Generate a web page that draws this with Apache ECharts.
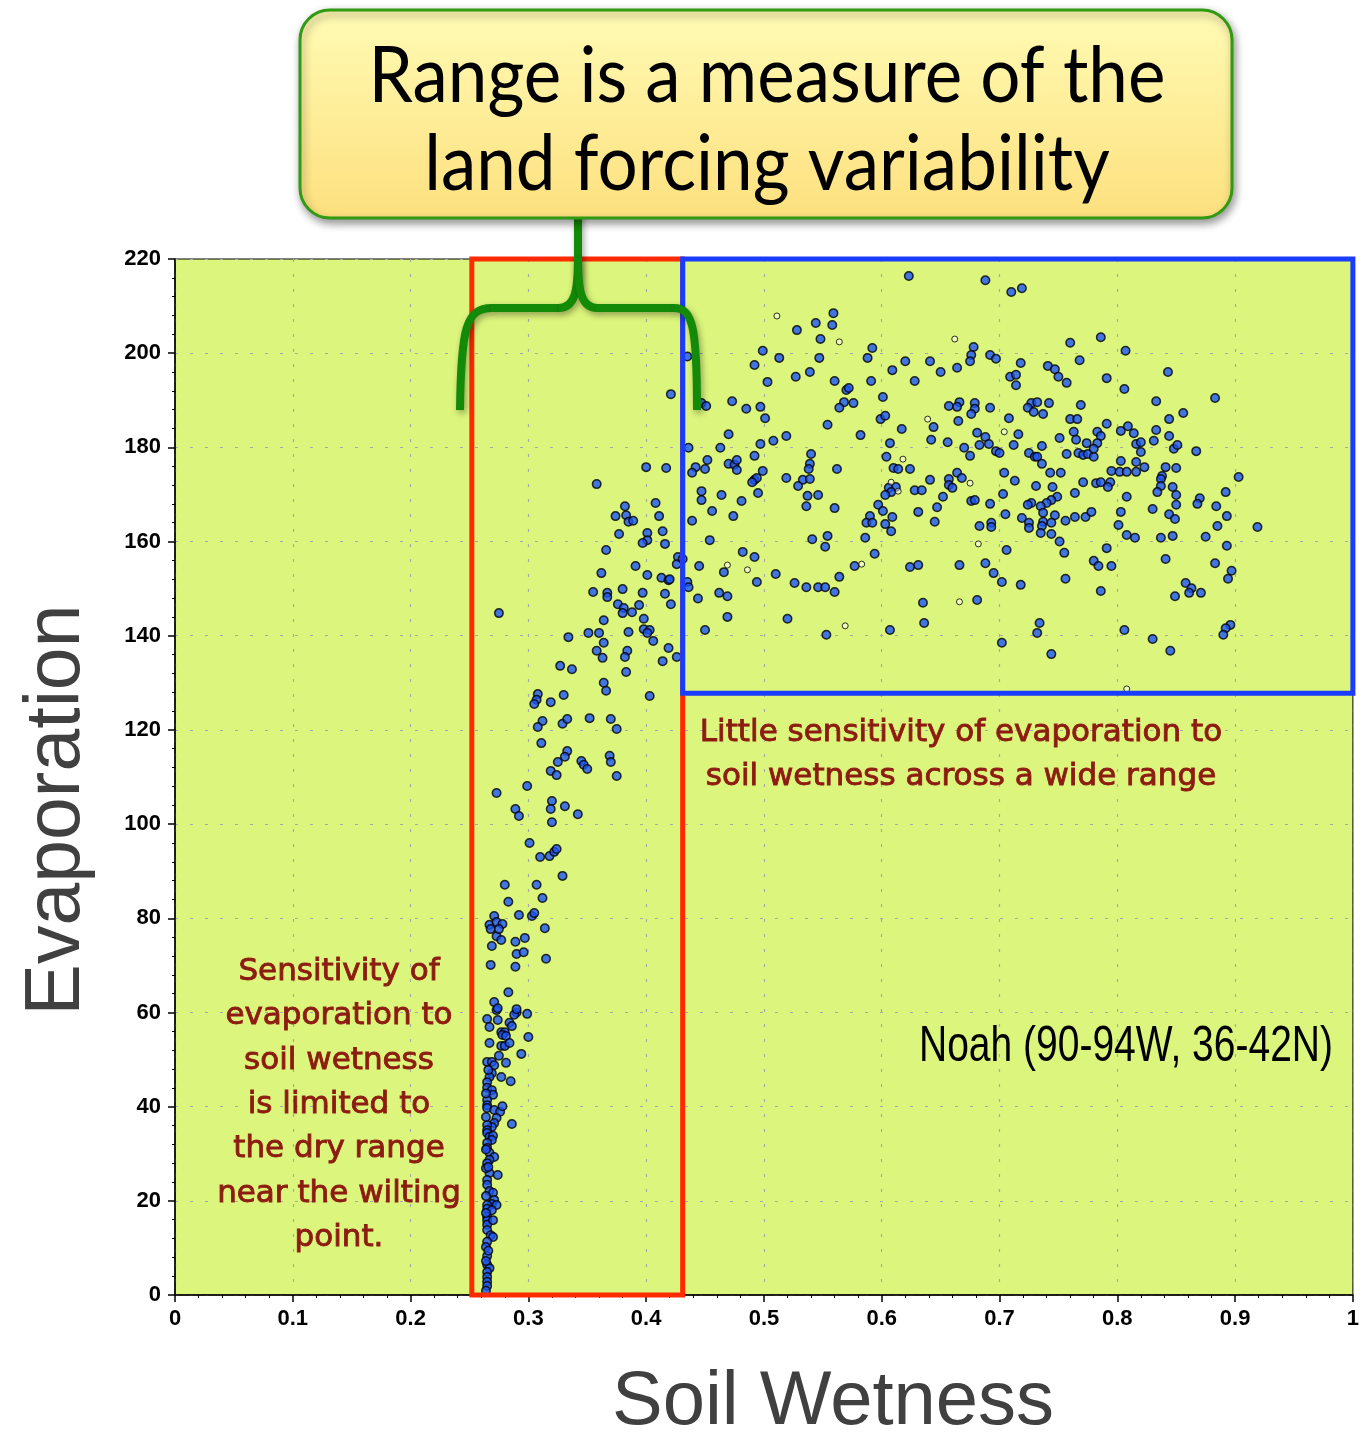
<!DOCTYPE html>
<html><head><meta charset="utf-8">
<script src="https://cdn.jsdelivr.net/npm/echarts@6/dist/echarts.min.js"></script>
<style>html,body{margin:0;padding:0;background:#fff}#c{width:1362px;height:1433px}</style>
</head><body><div id="c"></div>
<script>
// ---- data (soil wetness, evaporation) ----
const xTicks = ['0','0.1','0.2','0.3','0.4','0.5','0.6','0.7','0.8','0.9','1'];
const yTicks = [0,20,40,60,80,100,120,140,160,180,200,220];

const dryColumn = [[0.271,62.2],[0.273,60.5],[0.290,60.0],[0.288,59.5],[0.299,59.7],[0.265,58.6],[0.274,58.4],[0.284,57.8],[0.286,57.1],[0.267,56.9],[0.277,55.8],[0.280,55.8],[0.278,55.2],[0.281,55.0],[0.300,54.8],[0.267,53.5],[0.277,52.9],[0.280,52.9],[0.284,53.5],[0.294,51.2],[0.275,50.8],[0.265,49.5],[0.269,49.5],[0.271,48.8],[0.281,49.3],[0.269,47.1],[0.267,46.3],[0.277,46.3],[0.285,45.4],[0.265,45.2],[0.265,44.0],[0.269,43.5],[0.270,42.5],[0.265,41.4],[0.265,40.3],[0.265,39.7],[0.271,39.3],[0.276,38.9],[0.278,40.1],[0.273,37.6],[0.271,36.5],[0.269,35.7],[0.286,36.3],[0.265,36.1],[0.265,35.0],[0.265,34.4],[0.267,33.6],[0.270,33.8],[0.269,32.9],[0.265,32.3],[0.265,31.2],[0.267,30.2],[0.271,29.3],[0.267,28.7],[0.265,28.0],[0.267,25.9],[0.274,25.5],[0.265,24.4],[0.265,23.4],[0.267,22.1],[0.270,21.7],[0.271,20.2],[0.269,19.3],[0.273,19.1],[0.265,19.1],[0.265,18.3],[0.265,16.6],[0.265,15.9],[0.265,14.9],[0.269,18.0],[0.270,15.9],[0.265,13.8],[0.268,12.7],[0.270,12.3],[0.265,11.3],[0.265,8.3],[0.265,6.4],[0.267,5.7],[0.265,4.9],[0.265,3.8],[0.265,2.8],[0.265,1.9],[0.264,42.8],[0.264,37.8],[0.264,30.9],[0.264,26.9],[0.264,21.0],[0.264,17.4],[0.264,10.2],[0.264,7.2],[0.264,0.9],[0.266,47.8],[0.266,27.2],[0.266,9.4],[0.274,60.9],[0.290,60.7]];

const risingLimb = [[0.283,64.3],[0.268,70.1],[0.289,69.7],[0.315,71.4],[0.290,72.4],[0.296,72.8],[0.269,74.1],[0.297,75.8],[0.289,75.0],[0.273,76.2],[0.277,75.4],[0.314,77.9],[0.271,80.5],[0.267,78.6],[0.273,79.2],[0.278,78.8],[0.268,77.7],[0.275,77.7],[0.292,80.7],[0.303,80.5],[0.305,81.1],[0.283,83.5],[0.312,84.3],[0.280,87.1],[0.307,87.1],[0.329,89.0],[0.310,93.0],[0.318,93.2],[0.322,94.1],[0.324,94.7],[0.301,96.0],[0.320,100.4],[0.289,103.2],[0.292,101.7],[0.342,102.1],[0.331,103.8],[0.320,104.9],[0.319,103.2],[0.273,106.6],[0.299,108.1],[0.375,110.2],[0.319,111.3],[0.324,110.4],[0.345,113.4],[0.347,112.6],[0.350,111.7],[0.369,114.5],[0.370,113.2],[0.333,115.5],[0.331,114.3],[0.325,113.2],[0.311,117.2],[0.312,121.9],[0.308,120.6],[0.329,121.3],[0.333,122.3],[0.352,122.5],[0.370,122.3],[0.375,120.2],[0.308,127.6],[0.307,126.4],[0.305,125.5],[0.319,125.9],[0.330,127.4],[0.366,128.3],[0.403,127.2],[0.364,130.0],[0.383,132.3],[0.327,133.6],[0.337,132.9],[0.414,134.6],[0.358,136.8],[0.384,136.8],[0.382,135.5],[0.363,135.3],[0.426,135.5],[0.419,137.4],[0.364,138.5],[0.406,138.9],[0.351,140.6],[0.360,140.6],[0.334,139.7],[0.385,140.8],[0.398,141.4],[0.403,141.2],[0.401,140.6],[0.398,143.6],[0.364,143.3],[0.275,144.8],[0.376,146.7],[0.381,145.9],[0.380,144.8],[0.388,145.0],[0.394,146.5],[0.421,146.7],[0.380,149.9],[0.355,149.3],[0.367,149.1],[0.367,148.2],[0.397,149.1],[0.416,148.9],[0.413,152.3],[0.419,151.8],[0.420,152.0],[0.401,152.9],[0.362,153.3],[0.391,154.8],[0.427,156.7],[0.426,155.2],[0.366,158.2],[0.401,161.8],[0.401,160.3],[0.397,159.7],[0.414,162.2],[0.416,159.5],[0.377,161.6],[0.374,165.4],[0.383,165.6],[0.385,164.2],[0.389,164.4],[0.411,165.4],[0.382,167.5],[0.408,168.2],[0.358,172.2],[0.400,175.8],[0.417,175.6],[0.421,191.3],[0.431,156.3]];

const plateau = [[0.435,199.3],[0.623,216.4],[0.688,215.5],[0.710,213.0],[0.719,213.8],[0.559,208.5],[0.544,206.4],[0.558,206.0],[0.528,204.9],[0.548,203.0],[0.678,201.3],[0.499,200.5],[0.492,197.5],[0.513,199.0],[0.547,199.0],[0.592,201.1],[0.588,199.0],[0.620,198.3],[0.641,198.3],[0.676,199.6],[0.675,198.3],[0.692,199.6],[0.697,198.8],[0.609,196.4],[0.650,196.0],[0.664,196.9],[0.628,194.1],[0.503,193.9],[0.527,195.0],[0.539,196.0],[0.560,194.1],[0.591,194.1],[0.570,192.2],[0.572,192.6],[0.709,195.0],[0.714,195.4],[0.714,193.2],[0.601,190.7],[0.447,189.4],[0.451,188.8],[0.473,189.8],[0.485,188.2],[0.497,188.6],[0.501,186.2],[0.568,189.6],[0.564,188.4],[0.576,189.4],[0.657,188.8],[0.666,189.6],[0.664,188.6],[0.679,189.4],[0.679,188.2],[0.676,187.1],[0.692,188.4],[0.599,186.0],[0.603,186.7],[0.554,184.8],[0.665,185.6],[0.644,184.3],[0.708,186.2],[0.617,183.9],[0.470,182.8],[0.519,182.4],[0.508,181.4],[0.582,182.6],[0.681,183.1],[0.688,182.2],[0.642,181.6],[0.607,180.9],[0.656,181.1],[0.436,179.9],[0.463,179.9],[0.497,180.7],[0.670,179.9],[0.683,180.5],[0.691,180.7],[0.712,180.5],[0.697,179.2],[0.700,178.8],[0.675,178.2],[0.540,178.6],[0.492,178.2],[0.452,177.3],[0.442,175.8],[0.450,175.4],[0.439,174.6],[0.470,176.5],[0.475,176.3],[0.477,177.3],[0.477,175.2],[0.539,176.5],[0.538,175.4],[0.562,175.4],[0.604,178.0],[0.610,175.6],[0.614,175.4],[0.624,175.4],[0.499,175.0],[0.519,173.5],[0.492,173.1],[0.494,173.5],[0.490,172.6],[0.533,173.1],[0.539,173.3],[0.529,171.8],[0.664,174.6],[0.668,173.5],[0.657,173.3],[0.657,172.0],[0.660,171.4],[0.641,173.1],[0.704,174.6],[0.713,172.9],[0.606,171.4],[0.612,171.6],[0.608,170.5],[0.603,169.9],[0.628,170.9],[0.634,170.9],[0.447,170.7],[0.447,168.8],[0.464,169.9],[0.495,170.3],[0.546,169.9],[0.537,169.7],[0.481,168.6],[0.536,167.5],[0.560,167.1],[0.652,169.5],[0.676,168.6],[0.679,168.8],[0.692,168.0],[0.703,170.1],[0.705,165.8],[0.456,166.5],[0.474,165.4],[0.439,164.4],[0.597,167.8],[0.601,166.5],[0.609,165.2],[0.590,165.4],[0.587,164.0],[0.592,164.0],[0.603,163.7],[0.608,162.2],[0.631,166.3],[0.647,167.3],[0.645,164.2],[0.683,163.3],[0.693,164.0],[0.693,163.1],[0.454,160.3],[0.541,160.5],[0.554,161.2],[0.552,158.9],[0.586,160.8],[0.482,157.8],[0.492,156.7],[0.594,157.4],[0.706,158.2],[0.445,154.8],[0.466,153.5],[0.510,153.1],[0.577,154.8],[0.624,154.6],[0.631,155.0],[0.666,155.0],[0.688,155.4],[0.695,153.3],[0.702,151.4],[0.435,151.4],[0.436,150.3],[0.494,151.4],[0.526,151.2],[0.536,150.3],[0.546,150.3],[0.552,150.3],[0.560,149.3],[0.564,152.5],[0.462,149.1],[0.469,148.4],[0.444,147.9],[0.635,147.0],[0.681,147.6],[0.469,144.0],[0.520,143.6],[0.450,141.2],[0.553,140.2],[0.607,141.2],[0.636,142.7],[0.702,138.5],
[0.760,202.2],[0.786,203.4],[0.807,200.5],[0.718,197.9],[0.768,198.5],[0.741,197.3],[0.747,196.6],[0.750,195.0],[0.757,193.7],[0.791,194.7],[0.843,196.0],[0.806,192.4],[0.883,190.5],[0.833,189.8],[0.856,187.3],[0.727,189.4],[0.732,189.6],[0.724,188.4],[0.729,187.5],[0.742,189.4],[0.737,187.1],[0.769,189.0],[0.760,186.0],[0.766,186.0],[0.791,185.0],[0.844,186.0],[0.716,182.8],[0.751,182.0],[0.763,183.3],[0.765,181.6],[0.783,183.3],[0.786,182.4],[0.783,180.9],[0.774,180.9],[0.803,183.5],[0.809,184.5],[0.814,183.0],[0.833,183.7],[0.831,181.4],[0.844,182.4],[0.816,180.7],[0.820,181.1],[0.820,179.0],[0.848,179.7],[0.851,180.5],[0.867,179.2],[0.736,180.3],[0.725,178.8],[0.730,178.0],[0.732,178.0],[0.757,178.6],[0.767,178.8],[0.771,178.4],[0.775,178.6],[0.780,178.0],[0.780,179.7],[0.736,176.5],[0.803,177.1],[0.816,176.9],[0.743,174.6],[0.752,174.6],[0.795,175.0],[0.802,174.8],[0.808,174.8],[0.816,174.8],[0.823,175.8],[0.841,175.8],[0.850,175.6],[0.903,173.7],[0.771,172.6],[0.782,172.4],[0.786,172.6],[0.794,172.6],[0.792,171.6],[0.731,171.8],[0.745,171.6],[0.838,173.9],[0.837,173.3],[0.837,171.8],[0.834,170.5],[0.847,171.6],[0.850,169.9],[0.850,167.8],[0.892,170.5],[0.764,170.3],[0.749,169.5],[0.744,168.8],[0.740,168.2],[0.735,167.5],[0.727,168.2],[0.724,167.8],[0.808,169.5],[0.870,169.2],[0.868,168.0],[0.884,167.5],[0.893,165.4],[0.719,165.0],[0.725,164.0],[0.725,162.9],[0.737,166.1],[0.737,164.2],[0.736,163.3],[0.747,165.6],[0.744,164.0],[0.756,164.4],[0.764,165.2],[0.773,165.2],[0.778,166.3],[0.803,166.3],[0.801,163.5],[0.830,166.9],[0.844,165.8],[0.849,164.8],[0.885,163.3],[0.919,163.1],[0.735,161.8],[0.744,161.6],[0.751,160.0],[0.755,157.6],[0.808,161.4],[0.815,160.8],[0.837,160.8],[0.847,161.2],[0.875,161.0],[0.893,159.1],[0.791,158.6],[0.841,156.3],[0.780,155.9],[0.784,154.8],[0.795,154.8],[0.883,155.4],[0.897,153.8],[0.894,152.1],[0.718,150.8],[0.756,152.1],[0.786,149.5],[0.858,151.2],[0.863,150.1],[0.861,149.1],[0.871,149.1],[0.849,148.4],[0.734,142.7],[0.732,140.6],[0.806,141.2],[0.830,139.3],[0.845,136.8],[0.896,142.3],[0.892,141.6],[0.890,140.2],[0.744,136.1]];

const hollowPoints = [[0.511,207.9],[0.564,202.4],[0.662,203.0],[0.639,186.0],[0.704,183.3],[0.618,177.5],[0.675,172.4],[0.682,159.5],[0.486,154.0],[0.583,155.2],[0.666,147.2],[0.569,142.1],[0.808,128.7],[0.608,172.6],[0.614,170.7],[0.469,155.0]];

// annotation boxes in data units
const dryBox = {x0:0.252, x1:0.431, y0:0, y1:220};
const flatBox = {x0:0.431, x1:1.0, y0:127.8, y1:220};

const titleLines = ['Range is a measure of the', 'land forcing variability'];
const rightNote = ['Little sensitivity of evaporation to', 'soil wetness across a wide range'];
const leftNote = ['Sensitivity of','evaporation to','soil wetness','is limited to','the dry range','near the wilting','point.'];
const modelLabel = 'Noah (90-94W, 36-42N)';

const chart = echarts.init(document.getElementById('c'), null, {renderer:'canvas'});
const tickFont = {fontFamily:'Liberation Sans, Arial', fontWeight:'bold', fontSize:22, color:'#000'};
const axisCommon = {
  axisLine:{show:true, onZero:false, lineStyle:{color:'#000', width:1.5}},
  axisTick:{show:true, length:7, lineStyle:{color:'#000', width:1.5}},
  minorTick:{show:true, splitNumber:5, length:3, lineStyle:{color:'#000'}},
  splitLine:{show:true, lineStyle:{color:'#a8a8a8', type:[3,12], width:1.2}}
};
const symbolStyle = {color:'#1b55f5', borderColor:'#000', borderWidth:1.5};

chart.setOption({
  animation:false,
  backgroundColor:'#ffffff',
  grid:{left:175, top:259, width:1180, height:1036, show:true, backgroundColor:'#dcf57c', borderColor:'#000', borderWidth:1},
  xAxis:Object.assign({type:'value', min:0, max:1, interval:0.1,
    axisLabel:Object.assign({margin:13, formatter:(v)=>xTicks[Math.round(v*10)]}, tickFont)}, axisCommon),
  yAxis:Object.assign({type:'value', min:0, max:220, interval:20,
    axisLabel:Object.assign({margin:14, formatter:(v)=>String(yTicks[Math.round(v/20)])}, tickFont)}, axisCommon),
  series:[
    {type:'scatter', name:'dry', data:dryColumn, symbolSize:8.5, itemStyle:symbolStyle, z:3},
    {type:'scatter', name:'rising', data:risingLimb, symbolSize:8.5, itemStyle:symbolStyle, z:3},
    {type:'scatter', name:'plateau', data:plateau, symbolSize:8.5, itemStyle:symbolStyle, z:3},
    {type:'scatter', name:'hollow', data:hollowPoints, symbolSize:6, itemStyle:{color:'rgba(255,255,255,0.6)', borderColor:'#000', borderWidth:1}, z:3}
  ]
});

function px(x,y){ return chart.convertToPixel({gridIndex:0}, [x,y]); }
const d0 = px(dryBox.x0, dryBox.y1), d1 = px(dryBox.x1, dryBox.y0);
const f0 = px(flatBox.x0, flatBox.y1), f1 = px(flatBox.x1, flatBox.y0);

const green = '#138a08';
const braceShadow = {shadowBlur:6, shadowColor:'rgba(0,0,0,0.35)', shadowOffsetX:2, shadowOffsetY:3};
const braceStyle = Object.assign({stroke:green, lineWidth:8, fill:null, lineCap:'butt'}, braceShadow);
const bx0 = 460, bx1 = 697, bxm = 578, byBar = 308, byEnd = 410, byTip = 258;

const darkRed = '#8c1c12';
const noteFont = '31px "DejaVu Sans", Verdana, sans-serif';

const g = [];
g.push({type:'rect', z:10, shape:{x:d0[0], y:d0[1], width:d1[0]-d0[0], height:d1[1]-d0[1]}, style:{fill:null, stroke:'#ff2a00', lineWidth:5}});
g.push({type:'rect', z:10, shape:{x:f0[0], y:f0[1], width:f1[0]-f0[0], height:f1[1]-f0[1]}, style:{fill:null, stroke:'#1a3cff', lineWidth:5}});
g.push({type:'bezierCurve', z:11, shape:{x1:bx0, y1:byEnd, cpx1:bx0+1, cpy1:byBar+20, cpx2:bx0+6, cpy2:byBar, x2:bx0+32, y2:byBar}, style:braceStyle});
g.push({type:'line', z:11, shape:{x1:bx0+31, y1:byBar, x2:bxm-18, y2:byBar}, style:braceStyle});
g.push({type:'bezierCurve', z:11, shape:{x1:bxm-19, y1:byBar, cpx1:bxm-3, cpy1:byBar, cpx2:bxm, cpy2:byBar-18, x2:bxm, y2:byTip}, style:braceStyle});
g.push({type:'line', z:11, shape:{x1:bxm, y1:byTip+1, x2:bxm, y2:200}, style:braceStyle});
g.push({type:'bezierCurve', z:11, shape:{x1:bxm, y1:byTip, cpx1:bxm, cpy1:byBar-18, cpx2:bxm+3, cpy2:byBar, x2:bxm+19, y2:byBar}, style:braceStyle});
g.push({type:'line', z:11, shape:{x1:bxm+18, y1:byBar, x2:bx1-22, y2:byBar}, style:braceStyle});
g.push({type:'bezierCurve', z:11, shape:{x1:bx1-23, y1:byBar, cpx1:bx1-4, cpy1:byBar, cpx2:bx1, cpy2:byBar+20, x2:bx1, y2:byEnd}, style:braceStyle});
g.push({type:'rect', z:12, shape:{x:300, y:10, width:932, height:208, r:30},
  style:{fill:new echarts.graphic.LinearGradient(0,0,0,1,[{offset:0,color:'#fffbb4'},{offset:1,color:'#fde07e'}]),
  stroke:'#2f9a12', lineWidth:3, shadowBlur:8, shadowColor:'rgba(0,0,0,0.4)', shadowOffsetX:2, shadowOffsetY:4}});
titleLines.forEach((t,i)=>g.push({type:'text', z:13, x:767, y:77+i*88, scaleY:1.08,
  style:{text:t, fill:'#000', font:'71px Lato, "Open Sans", sans-serif', textAlign:'center', textVerticalAlign:'middle'}}));
rightNote.forEach((t,i)=>g.push({type:'text', z:13, x:961, y:733+i*44,
  style:{text:t, fill:darkRed, stroke:darkRed, lineWidth:0.9, font:noteFont, textAlign:'center', textVerticalAlign:'middle'}}));
leftNote.forEach((t,i)=>g.push({type:'text', z:13, x:339, y:972+i*44.3,
  style:{text:t, fill:darkRed, stroke:darkRed, lineWidth:0.9, font:noteFont, textAlign:'center', textVerticalAlign:'middle'}}));
g.push({type:'text', z:13, x:1333, y:1047, scaleX:0.78,
  style:{text:modelLabel, fill:'#000', font:'50px "Liberation Sans", Arial', textAlign:'right', textVerticalAlign:'middle'}});
g.push({type:'text', z:13, x:833, y:1403, style:{text:'Soil Wetness', fill:'#404040', font:'76px "Liberation Sans", Arial', textAlign:'center', textVerticalAlign:'middle'}});
g.push({type:'text', z:13, x:58, y:810, rotation:Math.PI/2, style:{text:'Evaporation', fill:'#404040', font:'77px "Liberation Sans", Arial', textAlign:'center', textVerticalAlign:'middle'}});

chart.setOption({graphic:g});
</script></body></html>
